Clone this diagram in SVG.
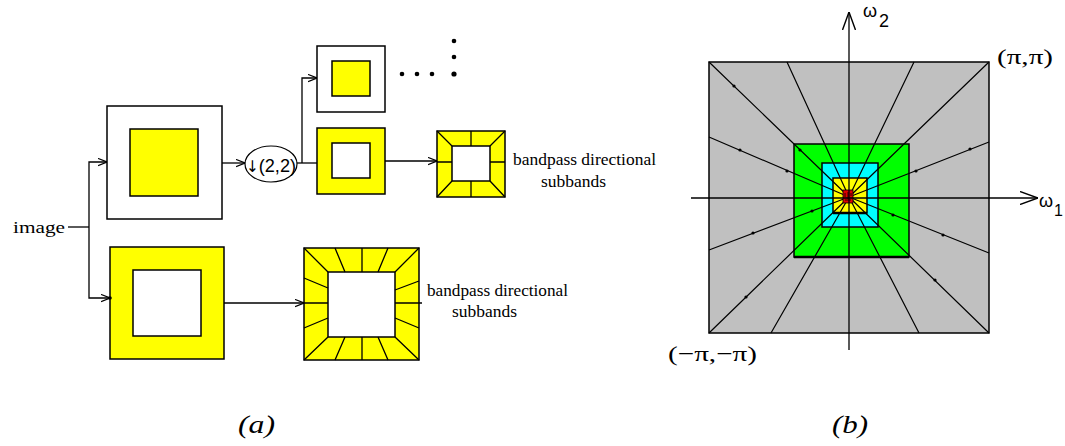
<svg xmlns="http://www.w3.org/2000/svg" width="1065" height="446" viewBox="0 0 1065 446">
<style>
.ln{fill:none;stroke:#000;stroke-width:1.3}
.bx{stroke:#000;stroke-width:1.5}
.y{fill:#FFFF00}
.w{fill:#FFFFFF}
.serif{font-family:"Liberation Serif","Times New Roman",serif;fill:#000}
.sans{font-family:"Liberation Sans",Arial,sans-serif;fill:#000}
.dv{font-family:"DejaVu Sans","Liberation Sans",sans-serif}
.rad{fill:none;stroke:#000;stroke-width:1.2}
.cap{font-family:"Liberation Serif","Times New Roman",serif;font-style:italic;font-size:25px;fill:#000}
</style>
<defs>
<marker id="arr" viewBox="0 0 10 10" refX="10" refY="5" markerWidth="9" markerHeight="9" markerUnits="userSpaceOnUse" orient="auto">
<path d="M0,1 L10,5 L0,9" fill="none" stroke="#000" stroke-width="1.3"/>
</marker>
<marker id="axarr" viewBox="0 0 18 14" refX="18" refY="7" markerWidth="18" markerHeight="14" markerUnits="userSpaceOnUse" orient="auto">
<path d="M0,0.5 L18,7 L0,13.5" fill="none" stroke="#000" stroke-width="1.4"/>
</marker>
</defs>
<rect width="1065" height="446" fill="#fff"/>

<!-- (a) -->
<g id="input-label">
<text class="serif" x="13" y="233" font-size="17" textLength="52" lengthAdjust="spacingAndGlyphs">image</text>
</g>

<g id="lowpass1">
<rect class="bx w" x="107" y="106" width="115" height="113"/>
<rect class="bx y" x="130" y="129" width="68" height="67"/>
</g>

<g id="downsample">
<ellipse cx="271" cy="164" rx="26" ry="18" fill="#fff" stroke="#000" stroke-width="1.2"/>
<text class="sans" x="246" y="172" font-size="19" textLength="50" lengthAdjust="spacingAndGlyphs"><tspan class="dv" font-size="16">↓</tspan>(2,2)</text>
</g>

<g id="lowpass2">
<rect class="bx w" x="317" y="46" width="68" height="66"/>
<rect class="bx y" x="332" y="61" width="38" height="35"/>
</g>

<g id="continuation-dots">
<circle cx="402" cy="74" r="2.3"/>
<circle cx="417" cy="74" r="2.3"/>
<circle cx="432" cy="74" r="2.3"/>
<circle cx="454" cy="41" r="2.3"/>
<circle cx="454" cy="57" r="2.3"/>
<circle cx="454" cy="74" r="2.6"/>
</g>

<g id="bandpass2">
<rect class="bx y" x="317" y="128" width="68" height="66"/>
<rect class="bx w" x="332" y="143" width="38" height="35"/>
</g>

<g id="directional2">
<rect class="bx y" x="437" y="131" width="68" height="66"/>
<rect class="bx w" x="452" y="146" width="38" height="35"/>
<path class="ln" d="M437,131 L452,146 M505,131 L490,146 M437,197 L452,181 M505,197 L490,181 M471,131 L471,146 M471,181 L471,197 M437,162 L452,162 M490,162 L505,162"/>
</g>
<g id="label-directional2">
<text class="serif" x="513" y="165" font-size="17" textLength="143" lengthAdjust="spacingAndGlyphs">bandpass directional</text>
<text class="serif" x="541" y="187" font-size="17" textLength="65" lengthAdjust="spacingAndGlyphs">subbands</text>
</g>

<g id="bandpass1">
<rect class="bx y" x="110" y="247" width="114" height="112"/>
<rect class="bx w" x="133" y="270" width="68" height="66"/>
</g>

<g id="directional1">
<rect class="bx y" x="304" y="248" width="115" height="112"/>
<rect class="bx w" x="328" y="272" width="67" height="65"/>
<path class="ln" d="M304,248 L328,272 M419,248 L395,272 M304,360 L328,337 M419,360 L395,337
M335,248 L345,272 M362,248 L362,272 M388,248 L378,272
M335,360 L345,337 M362,360 L362,337 M388,360 L378,337
M304,278 L328,288 M304,303 L328,303 M304,328 L328,318
M419,281 L395,290 M395,303 L422,303 M419,328 L395,318"/>
</g>
<g id="label-directional1">
<text class="serif" x="427" y="296" font-size="17" textLength="141" lengthAdjust="spacingAndGlyphs">bandpass directional</text>
<text class="serif" x="452" y="317" font-size="17" textLength="65" lengthAdjust="spacingAndGlyphs">subbands</text>
</g>

<g id="connectors">
<path class="ln" d="M68,227 L89,227"/>
<path class="ln" d="M89,227 L89,162 L107,162" marker-end="url(#arr)"/>
<path class="ln" d="M89,227 L89,298 L110,298" marker-end="url(#arr)"/>
<circle cx="110" cy="298" r="1.8"/>
<path class="ln" d="M222,163 L245,163" marker-end="url(#arr)"/>
<path class="ln" d="M297,163 L317,163"/>
<path class="ln" d="M302,163 L302,78 L317,78" marker-end="url(#arr)"/>
<path class="ln" d="M385,161 L437,161" marker-end="url(#arr)"/>
<path class="ln" d="M224,303 L304,303" marker-end="url(#arr)"/>
</g>

<g id="caption-a"><text class="cap" x="238" y="433" textLength="37" lengthAdjust="spacingAndGlyphs">(a)</text></g>

<!-- (b) -->
<g id="frequency-plane">
<rect x="709" y="62" width="280" height="271" fill="#C0C0C0" stroke="#000" stroke-width="1.5"/>
<rect x="794" y="144" width="115" height="113" fill="#00FF00" stroke="#000" stroke-width="1.5"/>
<line x1="794" y1="257" x2="909" y2="257" stroke="#000" stroke-width="2.5"/>
<rect x="822" y="163" width="56" height="64" fill="#00FFFF" stroke="#000" stroke-width="1.5"/>
<rect x="833" y="178" width="34" height="35" fill="#FFFF00" stroke="#000" stroke-width="1.5"/>
<line x1="833" y1="213" x2="867" y2="213" stroke="#000" stroke-width="2.5"/>
<path class="rad" d="M709,62 L849,197 M787,62 L849,197 M914,62 L849,197 M989,62 L849,197
M709,137 L849,197 M709,250 L849,197 M989,142 L849,197 M989,253 L849,197
M709,333 L849,197 M771,333 L849,197 M919,333 L849,197 M989,333 L849,197"/>
<g fill="#000">
<circle cx="734" cy="86" r="1.6"/><circle cx="800" cy="150" r="1.6"/>
<circle cx="740" cy="150" r="1.6"/><circle cx="787" cy="171" r="1.6"/>
<circle cx="970" cy="149" r="1.6"/><circle cx="916" cy="171" r="1.6"/>
<circle cx="753" cy="233" r="1.6"/><circle cx="812" cy="211" r="1.6"/>
<circle cx="943" cy="235" r="1.6"/><circle cx="893" cy="215" r="1.6"/>
<circle cx="746" cy="297" r="1.6"/><circle cx="935" cy="280" r="1.6"/>
</g>
<rect x="843" y="190" width="10" height="13" fill="#E00000" stroke="#000" stroke-width="0.8"/>
<path d="M845,193 L845,197 M848,192 L848,199 M851,193 L851,196 M845,200 L851,200" stroke="#000" stroke-width="0.8" fill="none"/>
</g>

<g id="axes">
<path class="ln" d="M849,350 L849,12" marker-end="url(#axarr)"/>
<path class="ln" d="M691,198 L1038,198" marker-end="url(#axarr)"/>
</g>

<g id="axis-labels">
<text class="sans" x="863" y="17" font-size="18">ω</text>
<text class="sans" x="879" y="27" font-size="18">2</text>
<text class="sans" x="1039" y="207" font-size="18">ω</text>
<text class="sans" x="1054" y="216" font-size="16">1</text>
<text class="serif" x="997" y="64" font-size="22" textLength="56" lengthAdjust="spacingAndGlyphs">(π,π)</text>
<text class="serif" x="668" y="361" font-size="22" textLength="89" lengthAdjust="spacingAndGlyphs">(−π,−π)</text>
</g>

<g id="caption-b"><text class="cap" x="832" y="433" textLength="36" lengthAdjust="spacingAndGlyphs">(b)</text></g>
</svg>
